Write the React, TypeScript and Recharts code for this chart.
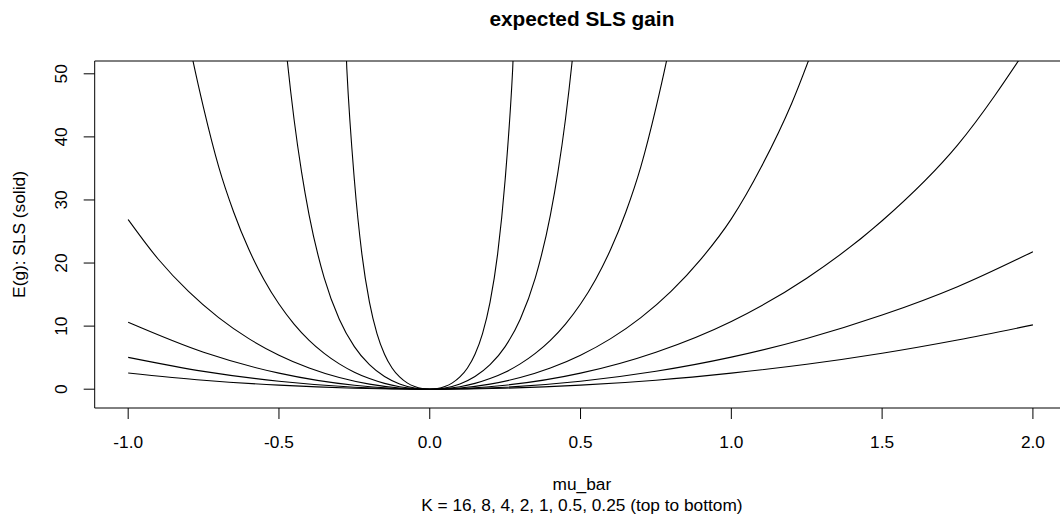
import React from 'react';
import { LineChart, Line, XAxis, YAxis, ReferenceArea } from 'recharts';

// tick labels and curve parameters
const xTicks = [-1, -0.5, 0, 0.5, 1, 1.5, 2];
const yTicks = [0, 10, 20, 30, 40, 50];
const kValues = [16, 8, 4, 2, 1, 0.5, 0.25];

// K = 0.25, 0.5, 1 share one mu_bar grid
const muQuarter = [-1, -0.75, -0.5, -0.25, 0, 0.25, 0.5, 0.75, 1, 1.25, 1.5, 1.75, 2];
const gainK025 = [2.57, 1.43, 0.64, 0.16, 0, 0.16, 0.64, 1.43, 2.55, 3.95, 5.7, 7.8, 10.2];
const gainK05 = [5.05, 2.83, 1.26, 0.31, 0, 0.31, 1.26, 2.84, 5.08, 8.04, 11.75, 16.25, 21.8];
const gainK1 = [10.6, 5.85, 2.55, 0.63, 0, 0.63, 2.55, 5.87, 10.75, 17.6, 26.7, 38.7, 55.5];

const muK2 = [-1, -0.9, -0.8, -0.7, -0.6, -0.5, -0.4, -0.3, -0.2, -0.1, 0, 0.1, 0.2, 0.3, 0.4, 0.5, 0.6, 0.7, 0.8, 0.9, 1, 1.1, 1.2, 1.3];
const gainK2 = [26.9, 20.6, 15.5, 11.35, 8.02, 5.39, 3.36, 1.85, 0.81, 0.2, 0, 0.2, 0.81, 1.85, 3.36, 5.39, 8.02, 11.35, 15.51, 20.66, 27.0, 35.3, 45.3, 57.8];

const muK4 = [-0.85, -0.8, -0.75, -0.7, -0.65, -0.6, -0.55, -0.5, -0.45, -0.4, -0.35, -0.3, -0.25, -0.2, -0.15, -0.1, -0.05, 0,
  0.05, 0.1, 0.15, 0.2, 0.25, 0.3, 0.35, 0.4, 0.45, 0.5, 0.55, 0.6, 0.65, 0.7, 0.75, 0.8, 0.85];
const gainK4 = [68.8, 55.5, 44.6, 35.29, 28.06, 22.18, 17.4, 13.5, 10.33, 7.75, 5.68, 4.01, 2.69, 1.68, 0.92, 0.4, 0.1, 0,
  0.1, 0.4, 0.92, 1.68, 2.69, 4.01, 5.68, 7.75, 10.33, 13.5, 17.4, 22.18, 28.06, 35.29, 44.6, 55.5, 68.8];

const muK8 = [-0.5, -0.475, -0.45, -0.425, -0.4, -0.35, -0.3, -0.25, -0.2, -0.15, -0.1, -0.05, 0,
  0.05, 0.1, 0.15, 0.2, 0.25, 0.3, 0.35, 0.4, 0.425, 0.45, 0.475, 0.5];
const gainK8 = [66.4, 53.3, 42.8, 34.4, 27.6, 17.64, 11.09, 6.75, 3.88, 2.01, 0.84, 0.2, 0,
  0.2, 0.84, 2.01, 3.88, 6.75, 11.09, 17.64, 27.6, 34.4, 42.8, 53.3, 66.4];

const muK16 = [-0.3, -0.275, -0.25, -0.225, -0.2, -0.175, -0.15, -0.125, -0.1, -0.075, -0.05, -0.025, 0,
  0.025, 0.05, 0.075, 0.1, 0.125, 0.15, 0.175, 0.2, 0.225, 0.25, 0.275, 0.3];
const gainK16 = [81.1, 50.8, 33.2, 21.41, 13.79, 8.82, 5.55, 3.37, 1.94, 1.0, 0.42, 0.1, 0,
  0.1, 0.42, 1.0, 1.94, 3.37, 5.55, 8.82, 13.79, 21.41, 33.2, 50.8, 81.1];

const toPoints = (xs: number[], ys: number[]) => xs.map((x, i) => ({ x, y: ys[i] }));

const curves = [
  { k: 16, data: toPoints(muK16, gainK16) },
  { k: 8, data: toPoints(muK8, gainK8) },
  { k: 4, data: toPoints(muK4, gainK4) },
  { k: 2, data: toPoints(muK2, gainK2) },
  { k: 1, data: toPoints(muQuarter, gainK1) },
  { k: 0.5, data: toPoints(muQuarter, gainK05) },
  { k: 0.25, data: toPoints(muQuarter, gainK025) },
];

const W = 1060;
const H = 525;
const FONT = '"Liberation Sans", Arial, Helvetica, sans-serif';
const FS = 17.3;
const PLOT_LEFT = 94.7;
const PLOT_TOP = 61;
const PLOT_BOTTOM = 408;
const X_DOMAIN: [number, number] = [-1.111, 2.12];
const Y_DOMAIN: [number, number] = [-2.98, 52.03];
const PLOT_RIGHT = 1069.1; // runs past the right edge of the picture
const X_AXIS_H = 60;
const midX = (PLOT_LEFT + PLOT_RIGHT) / 2;
const midY = (PLOT_TOP + PLOT_BOTTOM) / 2;

const XTick = (props: any) => {
  const { x, y, payload } = props;
  return (
    <text x={x} y={y} dy={29.3} textAnchor="middle" fontSize={FS} fontFamily={FONT} fill="#000">
      {Number(payload.value).toFixed(1)}
    </text>
  );
};

const YTick = (props: any) => {
  const { x, y, payload } = props;
  const bx = x - 16.7;
  return (
    <text
      x={bx}
      y={y}
      transform={`rotate(-90, ${bx}, ${y})`}
      textAnchor="middle"
      fontSize={FS}
      fontFamily={FONT}
      fill="#000"
    >
      {payload.value}
    </text>
  );
};

export default function App() {
  const ylabX = 25.4;
  return (
    <div style={{ position: 'absolute', left: 0, top: 0, width: W, height: H, overflow: 'hidden', background: '#fff' }}>
      <LineChart
        width={W}
        height={H}
        margin={{ top: PLOT_TOP, right: W - PLOT_RIGHT, bottom: H - PLOT_BOTTOM - X_AXIS_H, left: 0 }}
      >
        <XAxis
          type="number"
          dataKey="x"
          domain={X_DOMAIN}
          allowDataOverflow
          ticks={xTicks}
          height={X_AXIS_H}
          axisLine={false}
          tickLine={{ stroke: '#000' }}
          tickSize={11}
          tickMargin={0}
          tick={<XTick />}
          interval={0}
        />
        <YAxis
          type="number"
          dataKey="y"
          domain={Y_DOMAIN}
          allowDataOverflow
          ticks={yTicks}
          width={PLOT_LEFT}
          axisLine={false}
          tickLine={{ stroke: '#000' }}
          tickSize={11}
          tickMargin={0}
          tick={<YTick />}
          interval={0}
        />
        <ReferenceArea
          x1={X_DOMAIN[0]}
          x2={X_DOMAIN[1]}
          y1={Y_DOMAIN[0]}
          y2={Y_DOMAIN[1]}
          fill="none"
          fillOpacity={0}
          stroke="#000"
          strokeWidth={1}
          ifOverflow="visible"
        />
        {curves.map((c) => (
          <Line
            key={c.k}
            data={c.data}
            dataKey="y"
            type="monotone"
            stroke="#000"
            strokeWidth={1.1}
            dot={false}
            activeDot={false}
            isAnimationActive={false}
          />
        ))}
      </LineChart>
      <svg width={W} height={H} style={{ position: 'absolute', left: 0, top: 0, pointerEvents: 'none' }}>
        <text x={midX} y={26} textAnchor="middle" fontSize={20.8} fontWeight="bold" fontFamily={FONT} fill="#000">
          expected SLS gain
        </text>
        <text x={midX} y={490} textAnchor="middle" fontSize={FS} fontFamily={FONT} fill="#000">
          mu_bar
        </text>
        <text x={midX} y={510.7} textAnchor="middle" fontSize={FS} fontFamily={FONT} fill="#000">
          {`K = ${kValues.join(', ')} (top to bottom)`}
        </text>
        <text
          x={ylabX}
          y={midY}
          transform={`rotate(-90, ${ylabX}, ${midY})`}
          textAnchor="middle"
          fontSize={FS}
          fontFamily={FONT}
          fill="#000"
        >
          E(g): SLS (solid)
        </text>
      </svg>
    </div>
  );
}
